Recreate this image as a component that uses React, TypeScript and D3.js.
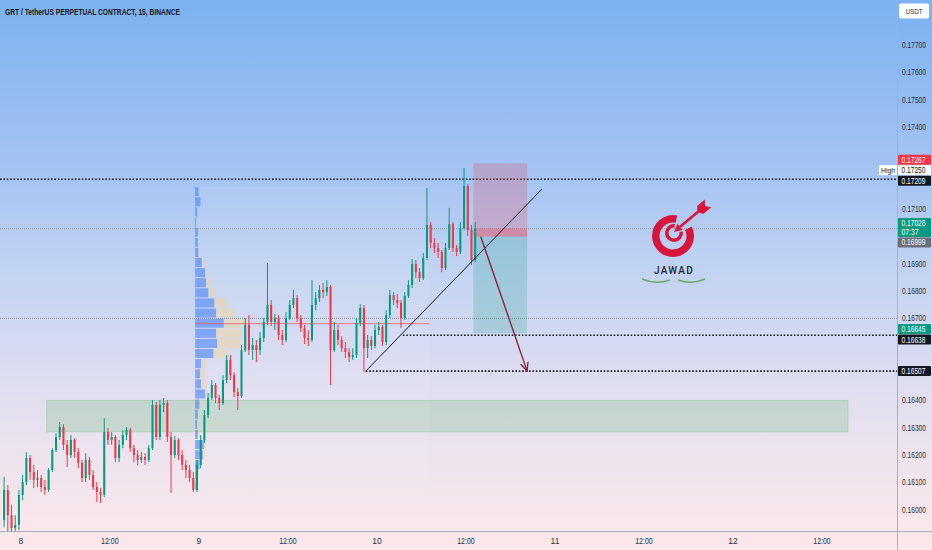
import React from 'react'
import * as d3 from 'd3'

const TITLE = 'GRT / TetherUS PERPETUAL CONTRACT, 15, BINANCE'

// 30 minute candles, prices x 1e5
const CANDLE_START = new Date(2024, 0, 7, 21, 30)
const CANDLE_MINUTES = 30
const FIRST_OPEN = 15962
const closes = [
  16072, 15980, 15933, 15944, 16054, 16101, 16189, 16138, 16109, 16116,
  16083, 16072, 16145, 16218, 16266, 16302, 16237, 16200, 16255, 16211,
  16171, 16116, 16182, 16127, 16083, 16065, 16054, 16284, 16255, 16266,
  16189, 16237, 16273, 16291, 16225, 16200, 16182, 16193, 16182, 16225,
  16383, 16266, 16383, 16390, 16266, 16200, 16255, 16200, 16164, 16145,
  16116, 16072, 16164, 16255, 16346, 16409, 16456, 16409, 16390, 16474,
  16548, 16492, 16430, 16416, 16584, 16676, 16584, 16602, 16584, 16628,
  16687, 16749, 16687, 16701, 16639, 16621, 16701, 16749, 16774, 16701,
  16665, 16628, 16621, 16749, 16774, 16804, 16796, 16815, 16584, 16657,
  16621, 16591, 16577, 16558, 16566, 16683, 16738, 16591, 16621, 16599,
  16657, 16668, 16613, 16712, 16785, 16767, 16756, 16701, 16782, 16822,
  16899, 16869, 16847, 16921, 17042, 16976, 16957, 16943, 16884, 16957,
  17045, 16957, 16943, 17030, 17184, 17023, 16913, 17028
]
const highs = [
  16120, 16090, 16017, 15980, 16072, 16127, 16211, 16200, 16164, 16145,
  16127, 16109, 16152, 16225, 16280, 16321, 16313, 16255, 16273, 16262,
  16225, 16182, 16207, 16193, 16145, 16101, 16079, 16335, 16299, 16284,
  16273, 16255, 16291, 16302, 16299, 16237, 16218, 16211, 16207, 16237,
  16401, 16394, 16401, 16409, 16401, 16284, 16270, 16262, 16218, 16182,
  16164, 16138, 16182, 16273, 16365, 16427, 16474, 16463, 16420, 16492,
  16566, 16566, 16503, 16445, 16602, 16701, 16712, 16628, 16621, 16650,
  16701, 16902, 16767, 16716, 16712, 16657, 16723, 16767, 16804, 16785,
  16712, 16676, 16657, 16840, 16796, 16822, 16829, 16840, 16822, 16687,
  16676, 16635, 16613, 16591, 16591, 16701, 16752, 16749, 16639, 16635,
  16676, 16687, 16676, 16730, 16804, 16796, 16789, 16767, 16796, 16840,
  16917, 16913, 16884, 16939, 17177, 17052, 16994, 16976, 16950, 16976,
  17104, 17052, 16968, 17052, 17250, 17191, 17042, 17052
]
const lows = [
  15937, 15922, 15907, 15907, 15926, 16035, 16090, 16109, 16079, 16083,
  16065, 16054, 16065, 16138, 16211, 16255, 16218, 16156, 16189, 16189,
  16152, 16101, 16101, 16109, 16072, 16028, 16024, 16046, 16237, 16237,
  16174, 16174, 16225, 16255, 16211, 16174, 16164, 16171, 16164, 16174,
  16218, 16255, 16255, 16357, 16248, 16061, 16189, 16182, 16145, 16116,
  16101, 16065, 16065, 16152, 16244, 16335, 16401, 16390, 16365, 16383,
  16463, 16474, 16412, 16365, 16409, 16577, 16566, 16548, 16540, 16566,
  16613, 16676, 16672, 16657, 16621, 16602, 16613, 16694, 16738, 16687,
  16650, 16606, 16599, 16613, 16730, 16760, 16774, 16782, 16456, 16577,
  16602, 16577, 16555, 16540, 16548, 16555, 16672, 16504, 16555, 16584,
  16591, 16639, 16599, 16602, 16701, 16749, 16738, 16665, 16694, 16774,
  16811, 16847, 16833, 16840, 16913, 16957, 16939, 16921, 16869, 16877,
  16950, 16943, 16928, 16935, 17023, 17001, 16895, 16906
]

// visible range volume profile (rows from the top price downward)
const VP_FROM = new Date(2024, 0, 8, 23, 30)
const VP_TO = new Date(2024, 0, 10, 7, 0)
const VP_TOP = 17180
const VP_STEP = 37
const vpUp = [33, 53, 20, 10, 27, 27, 33, 67, 100, 110, 133, 193, 210, 287, 210, 220, 183, 60, 50, 60, 100, 43, 27, 20, 27, 87, 77, 43, 27, 20]
const vpDown = [0, 0, 0, 0, 0, 0, 10, 26, 27, 43, 60, 134, 183, 223, 260, 240, 147, 50, 43, 50, 27, 17, 0, 0, 16, 23, 23, 0, 0, 0]

// drawings
const ZONE_FROM = new Date(2024, 0, 8, 3, 30)
const ZONE_TO = new Date(2024, 0, 12, 15, 30)
const ZONE_PRICES = [0.164, 0.16285]
const HIGH_LEVEL = 0.17209
const TP_LEVEL = 0.16638
const TP_FROM = new Date(2024, 0, 10, 3, 30)
const LOW_LEVEL = 0.16507
const LOW_FROM = new Date(2024, 0, 9, 22, 30)
const THIN_LEVEL = 0.167
const LAST_PRICE = 0.17028
const COUNTDOWN = '07:37'
const POS_FROM = new Date(2024, 0, 10, 13, 0)
const POS_TO = new Date(2024, 0, 10, 20, 15)
const POS_STOP = 0.17267
const POS_ENTRY = 0.16999
const POS_TARGET = 0.16645
const SESSION_HIGH = 0.1725
const TREND_TIMES = [new Date(2024, 0, 9, 22, 30), new Date(2024, 0, 10, 22, 15)]
const TREND_PRICES = [0.16507, 0.17173]
const ARROW_TIMES = [new Date(2024, 0, 10, 14, 0), new Date(2024, 0, 10, 20, 15)]
const ARROW_PRICES = [0.16999, 0.16507]

const W = 932
const H = 550
const PLOT_R = 897
const PLOT_B = 531

const GREEN = '#089981'
const RED = '#f23645'
const FONT = "'Liberation Sans', Arial, sans-serif"

const x = d3.scaleTime()
  .domain([new Date(2024, 0, 8), new Date(2024, 0, 12)])
  .range([20.8, 733])
const y = d3.scaleLinear().domain([0.16, 0.177]).range([509.7, 45])

type Label = { key: string; price: number; bg: string; fg: string; text: string; sub?: string; cy: number; h: number }

function layoutLabels(items: Label[]) {
  const arr = items.map((d) => ({ ...d }))
  for (let it = 0; it < 60; it++) {
    arr.sort((a, b) => a.cy - b.cy)
    let moved = false
    for (let i = 1; i < arr.length; i++) {
      const a = arr[i - 1]
      const b = arr[i]
      const need = (a.h + b.h) / 2 + 0.5 - (b.cy - a.cy)
      if (need > 0.01) {
        a.cy -= need / 2
        b.cy += need / 2
        moved = true
      }
    }
    if (!moved) break
  }
  return arr
}

const Logo: React.FC = () => {
  const cx = 673
  const cy = 236
  const outer = d3.arc()({ innerRadius: 13.5, outerRadius: 21, startAngle: 1.1, endAngle: Math.PI * 2 + 0.2 } as any) || ''
  const inner = d3.arc()({ innerRadius: 5.5, outerRadius: 9, startAngle: 1.4, endAngle: Math.PI * 2 + 0.1 } as any) || ''
  const tip: [number, number] = [674, 232]
  const end: [number, number] = [705, 206]
  const len = Math.hypot(end[0] - tip[0], end[1] - tip[1])
  const u = [(end[0] - tip[0]) / len, (end[1] - tip[1]) / len]
  const p = [-u[1], u[0]]
  const hb = [tip[0] + u[0] * 8, tip[1] + u[1] * 8]
  const head = `M${tip[0]},${tip[1]}L${hb[0] + p[0] * 4},${hb[1] + p[1] * 4}L${hb[0] - p[0] * 4},${hb[1] - p[1] * 4}Z`
  const feather = (s: number) => {
    const a = [end[0] - u[0] * 10, end[1] - u[1] * 10]
    const b = end
    return `M${a[0]},${a[1]}L${a[0] + p[0] * 5 * s + u[0] * 4},${a[1] + p[1] * 5 * s + u[1] * 4}L${b[0] + p[0] * 5 * s + u[0] * 4},${b[1] + p[1] * 5 * s + u[1] * 4}L${b[0]},${b[1]}Z`
  }
  return (
    <g className="logo">
      <path d={outer} transform={`translate(${cx},${cy})`} fill="#d8163b" />
      <path d={inner} transform={`translate(${cx + 1},${cy - 3})`} fill="#d8163b" />
      <line x1={hb[0]} y1={hb[1]} x2={end[0]} y2={end[1]} stroke="#d8163b" strokeWidth={2.6} />
      <path d={head} fill="#d8163b" />
      <path d={feather(1)} fill="#d8163b" />
      <path d={feather(-1)} fill="#d8163b" />
      <text x={674} y={273.5} textAnchor="middle" fontFamily="Roboto, sans-serif" fontSize={10} fontWeight={500} letterSpacing={1.3} fill="#1e2430">JAWAD</text>
      <path d="M642,279 Q656,285 670,280" fill="none" stroke="#6aa86a" strokeWidth={1.5} />
      <path d="M678,280 Q692,285 705,279" fill="none" stroke="#6aa86a" strokeWidth={1.5} />
    </g>
  )
}

export default function App() {
  const step = CANDLE_MINUTES * 60000
  const candles = closes.map((c, i) => {
    const t = new Date(CANDLE_START.getTime() + i * step)
    const open = i === 0 ? FIRST_OPEN : closes[i - 1]
    return { t, o: open / 1e5, h: highs[i] / 1e5, l: lows[i] / 1e5, c: c / 1e5 }
  })
  const slot = x(new Date(CANDLE_START.getTime() + step)) - x(CANDLE_START)
  const bodyW = slot * 0.55

  // volume profile
  const vpTotals = vpUp.map((u, i) => u + vpDown[i])
  const vpW = d3.scaleLinear().domain([0, d3.max(vpTotals) || 1]).range([0, 51])
  const pocIdx = d3.maxIndex(vpTotals)
  const vx0 = x(VP_FROM)
  const vx1 = x(VP_TO)
  const rowPrice = (k: number) => (VP_TOP - k * VP_STEP) / 1e5

  // right axis labels
  const labelsIn: Label[] = [
    { key: 'stop', price: POS_STOP, bg: RED, fg: '#fff', text: POS_STOP.toFixed(5), cy: y(POS_STOP), h: 10 },
    { key: 'high', price: SESSION_HIGH, bg: '#fff', fg: '#131722', text: SESSION_HIGH.toFixed(5), cy: y(SESSION_HIGH), h: 10 },
    { key: 'hl', price: HIGH_LEVEL, bg: '#131722', fg: '#fff', text: HIGH_LEVEL.toFixed(5), cy: y(HIGH_LEVEL), h: 10 },
    { key: 'last', price: LAST_PRICE, bg: GREEN, fg: '#fff', text: LAST_PRICE.toFixed(5), sub: COUNTDOWN, cy: y(LAST_PRICE) + 4.5, h: 19 },
    { key: 'entry', price: POS_ENTRY, bg: '#6b6e78', fg: '#fff', text: POS_ENTRY.toFixed(5), cy: y(POS_ENTRY), h: 10 },
    { key: 'target', price: POS_TARGET, bg: GREEN, fg: '#fff', text: POS_TARGET.toFixed(5), cy: y(POS_TARGET), h: 10 },
    { key: 'tp', price: TP_LEVEL, bg: '#131722', fg: '#fff', text: TP_LEVEL.toFixed(5), cy: y(TP_LEVEL), h: 10 },
    { key: 'low', price: LOW_LEVEL, bg: '#131722', fg: '#fff', text: LOW_LEVEL.toFixed(5), cy: y(LOW_LEVEL), h: 10 }
  ]
  const labels = layoutLabels(labelsIn)
  const priceTicks = y.ticks(17).filter((v) => !labels.some((l) => Math.abs(y(v) - l.cy) < l.h / 2 + 4))
  const timeTicks = d3.timeHour.every(12)!.range(new Date(2024, 0, 8), new Date(2024, 0, 13))
  const fmtTime = (d: Date) => (d.getHours() === 0 ? String(d.getDate()) : d3.timeFormat('%H:%M')(d))
  const highLabel = labels.find((l) => l.key === 'high')!

  const ax0 = x(ARROW_TIMES[0])
  const ay0 = y(ARROW_PRICES[0])
  const ax1 = x(ARROW_TIMES[1])
  const ay1 = y(ARROW_PRICES[1])

  return (
    <svg width={W} height={H} style={{ position: 'absolute', left: 0, top: 0 }} fontFamily={FONT}>
      <defs>
        <linearGradient id="bg" x1={0} y1={0} x2={0} y2={1}>
          <stop offset="0%" stopColor="#7db1f1" />
          <stop offset="33%" stopColor="#a7c5f2" />
          <stop offset="50%" stopColor="#c3d4f2" />
          <stop offset="67%" stopColor="#dbdcf1" />
          <stop offset="84%" stopColor="#eee4ee" />
          <stop offset="100%" stopColor="#fde8ea" />
        </linearGradient>
        <clipPath id="plot">
          <rect x={0} y={0} width={PLOT_R} height={PLOT_B} />
        </clipPath>
        <marker id="ah" viewBox="0 0 10 10" refX={9} refY={5} markerWidth={7} markerHeight={7} orient="auto">
          <path d="M0,1 L9,5 L0,9" fill="none" stroke="#8e1f3c" strokeWidth={1.4} />
        </marker>
      </defs>
      <rect width={W} height={H} fill="url(#bg)" />

      <g clipPath="url(#plot)">
        {/* demand zone */}
        <rect x={x(ZONE_FROM)} y={y(ZONE_PRICES[0])} width={x(ZONE_TO) - x(ZONE_FROM)} height={y(ZONE_PRICES[1]) - y(ZONE_PRICES[0])}
          fill="rgba(76,175,80,0.2)" stroke="rgba(76,175,80,0.25)" strokeWidth={1} />

        {/* volume profile */}
        <rect x={vx0} y={y(VP_TOP / 1e5)} width={vx1 - vx0} height={y(rowPrice(vpUp.length)) - y(VP_TOP / 1e5)} fill="rgba(255,255,255,0.07)" />
        {vpUp.map((u, k) => {
          const top = y(rowPrice(k))
          const hgt = y(rowPrice(k + 1)) - top - 1
          return (
            <g key={k}>
              <rect x={vx0} y={top} width={vpW(u)} height={hgt} fill="rgba(70,130,250,0.6)" />
              <rect x={vx0 + vpW(u)} y={top} width={vpW(vpDown[k])} height={hgt} fill="rgba(238,214,160,0.55)" />
            </g>
          )
        })}
        <line x1={vx0} x2={vx1} y1={y(rowPrice(pocIdx + 0.5))} y2={y(rowPrice(pocIdx + 0.5))} stroke="rgba(242,82,95,0.75)" strokeWidth={1} />

        {/* thin lines */}
        <line x1={0} x2={PLOT_R} y1={y(THIN_LEVEL)} y2={y(THIN_LEVEL)} stroke="#7a8290" strokeWidth={0.8} strokeDasharray="1 1" />
        <line x1={0} x2={PLOT_R} y1={y(LAST_PRICE)} y2={y(LAST_PRICE)} stroke="#8a919e" strokeWidth={0.8} strokeDasharray="1 1" />

        {/* dotted levels */}
        <line x1={0} x2={PLOT_R} y1={y(HIGH_LEVEL)} y2={y(HIGH_LEVEL)} stroke="#131722" strokeWidth={1.6} strokeDasharray="1.6 1.8" />
        <line x1={x(TP_FROM)} x2={PLOT_R} y1={y(TP_LEVEL)} y2={y(TP_LEVEL)} stroke="#131722" strokeWidth={1.6} strokeDasharray="1.6 1.8" />
        <line x1={x(LOW_FROM)} x2={PLOT_R} y1={y(LOW_LEVEL)} y2={y(LOW_LEVEL)} stroke="#131722" strokeWidth={1.6} strokeDasharray="1.6 1.8" />

        {/* short position */}
        <rect x={x(POS_FROM)} y={y(POS_STOP)} width={x(POS_TO) - x(POS_FROM)} height={y(POS_ENTRY) - y(POS_STOP)} fill="rgba(242,54,69,0.22)" />
        <rect x={x(POS_FROM)} y={y(LAST_PRICE)} width={x(POS_TO) - x(POS_FROM)} height={y(POS_ENTRY) - y(LAST_PRICE)} fill="rgba(242,54,69,0.28)" />
        <rect x={x(POS_FROM)} y={y(POS_ENTRY)} width={x(POS_TO) - x(POS_FROM)} height={y(POS_TARGET) - y(POS_ENTRY)} fill="rgba(8,153,129,0.2)" />

        {/* candles */}
        {candles.map((d, i) => {
          const cx = x(new Date(d.t.getTime() + step / 2))
          const up = d.c >= d.o
          const col = up ? GREEN : RED
          const top = y(Math.max(d.o, d.c))
          const bot = y(Math.min(d.o, d.c))
          return (
            <g key={i}>
              <line x1={cx} x2={cx} y1={y(d.h)} y2={y(d.l)} stroke={col} strokeWidth={1} />
              <rect x={cx - bodyW / 2} y={top} width={bodyW} height={Math.max(1, bot - top)} fill={col} />
            </g>
          )
        })}

        {/* trend line and arrow */}
        <line x1={x(TREND_TIMES[0])} y1={y(TREND_PRICES[0])} x2={x(TREND_TIMES[1])} y2={y(TREND_PRICES[1])} stroke="#131722" strokeWidth={1} />
        <line x1={ax0} y1={ay0} x2={ax1} y2={ay1} stroke="#8e1f3c" strokeWidth={1.4} markerEnd="url(#ah)" />

        <Logo />
      </g>

      <text x={5} y={14.5} fontSize={9.5} fontWeight={700} fill="#131722" textLength={175} lengthAdjust="spacingAndGlyphs">{TITLE}</text>

      {/* axes frame */}
      <line x1={PLOT_R + 0.5} x2={PLOT_R + 0.5} y1={0} y2={H} stroke="#a9b0c2" strokeWidth={1} />
      <line x1={0} x2={W} y1={PLOT_B + 0.5} y2={PLOT_B + 0.5} stroke="#a9b0c2" strokeWidth={1} />

      <rect x={899} y={3.5} width={30} height={15} rx={2} fill="#fff" />
      <text x={914} y={14} textAnchor="middle" fontSize={7.5} fill="#2a2e39" textLength={17} lengthAdjust="spacingAndGlyphs">USDT</text>

      {priceTicks.map((v) => (
        <text key={v} x={902} y={y(v) + 3} fontSize={8.5} fill="#2a2e39" textLength={24} lengthAdjust="spacingAndGlyphs">{v.toFixed(5)}</text>
      ))}

      {timeTicks.map((t) => {
        const s = fmtTime(t)
        return (
          <text key={t.getTime()} x={x(t)} y={544} textAnchor="middle" fontSize={8.5} fill="#2a2e39"
            {...(s.length > 2 ? { textLength: 17.5, lengthAdjust: 'spacingAndGlyphs' } : {})}>{s}</text>
        )
      })}

      {labels.map((l) => (
        <g key={l.key}>
          <rect x={898} y={l.cy - l.h / 2} width={33} height={l.h} rx={1} fill={l.bg} />
          <text x={901.5} y={l.cy - l.h / 2 + 8} fontSize={8.5} fill={l.fg} textLength={24} lengthAdjust="spacingAndGlyphs">{l.text}</text>
          {l.sub ? <text x={901.5} y={l.cy - l.h / 2 + 17} fontSize={8.5} fill={l.fg} textLength={17} lengthAdjust="spacingAndGlyphs">{l.sub}</text> : null}
        </g>
      ))}
      <rect x={879} y={highLabel.cy - 5} width={18} height={10} fill="#fff" />
      <text x={881} y={highLabel.cy + 3} fontSize={7.5} fill="#131722" textLength={14} lengthAdjust="spacingAndGlyphs">High</text>
    </svg>
  )
}
